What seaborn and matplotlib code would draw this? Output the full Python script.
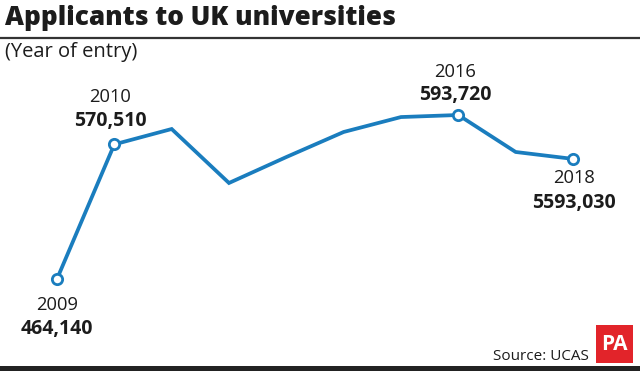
import matplotlib
matplotlib.use("Agg")
import matplotlib.pyplot as plt
import seaborn as sns
import pandas as pd
from matplotlib.patches import Rectangle
from matplotlib.lines import Line2D

# ---- data ----
years = [2009, 2010, 2011, 2012, 2013, 2014, 2015, 2016, 2017, 2018]
applicants = [464140, 570510, 582650, 540000, 560500, 580300, 592100, 593720, 564500, 559030]
label_years = [2009, 2010, 2016, 2018]
label_texts = ["464,140", "570,510", "593,720", "5593,030"]
title = "Applicants to UK universities"
subtitle = "(Year of entry)"
source = "Source: UCAS"

# ---- style ----
BLUE = "#1a7dbe"
INK = "#1c1c1c"
W, H = 640, 371
sns.set_theme(style="white")
plt.rcParams['font.family'] = ['Open Sans', 'DejaVu Sans']

fig = plt.figure(figsize=(W / 100, H / 100), dpi=100)
fig.patch.set_facecolor("white")
ax = fig.add_axes([0, 0, 1, 1])
ax.set_facecolor("none")

df = pd.DataFrame({"year": years, "applicants": applicants})
sns.lineplot(data=df, x="year", y="applicants", ax=ax, color=BLUE,
             linewidth=2.7, solid_joinstyle="miter")
mk = df[df["year"].isin(label_years)]
sns.scatterplot(data=mk, x="year", y="applicants", ax=ax, s=55,
                facecolor="white", edgecolor=BLUE, linewidth=2.0, zorder=5)

ax.set_xlim(2008.006, 2019.169)
ax.set_ylim(391451, 684582)
ax.axis("off")

# label offsets in pixels: (dx, dy_year, dy_value)
offsets = {2009: (0, -26, -50), 2010: (-4, 47, 23), 2016: (-3, 43, 20), 2018: (1, -19, -44)}
for yr, txt in zip(label_years, label_texts):
    val = applicants[years.index(yr)]
    dx, dyy, dyv = offsets[yr]
    ax.annotate(str(yr), (yr, val), xytext=(dx, dyy), textcoords="offset pixels",
                ha="center", va="center", fontsize=13.2, color=INK)
    ax.annotate(txt, (yr, val), xytext=(dx, dyv), textcoords="offset pixels",
                ha="center", va="center", fontsize=14, fontweight="bold", color=INK)

def fx(x): return x / W
def fy(y): return 1 - y / H

fig.text(fx(5), fy(18), title, fontsize=18.8, fontweight=800, color=INK,
         ha="left", va="center")
fig.add_artist(Line2D([0, 1], [fy(38), fy(38)], color="#333333", linewidth=1.6,
                      transform=fig.transFigure))
fig.text(fx(5), fy(52), subtitle, fontsize=14.5, color=INK, ha="left", va="center")
fig.text(fx(589), fy(356), source, fontsize=11, color=INK, ha="right", va="center")

fig.add_artist(Rectangle((fx(596), fy(363)), (633 - 596) / W, (363 - 325) / H,
                         transform=fig.transFigure, facecolor="#e2242a", edgecolor="none"))
fig.text(fx(614.5), fy(344), "PA", fontsize=15, fontweight="bold", color="white",
         ha="center", va="center", fontstretch="condensed")
fig.add_artist(Rectangle((0, 0), 1, (H - 366) / H, transform=fig.transFigure,
                         facecolor="#222222", edgecolor="none"))

fig.savefig("out.png", dpi=100, facecolor="white")
